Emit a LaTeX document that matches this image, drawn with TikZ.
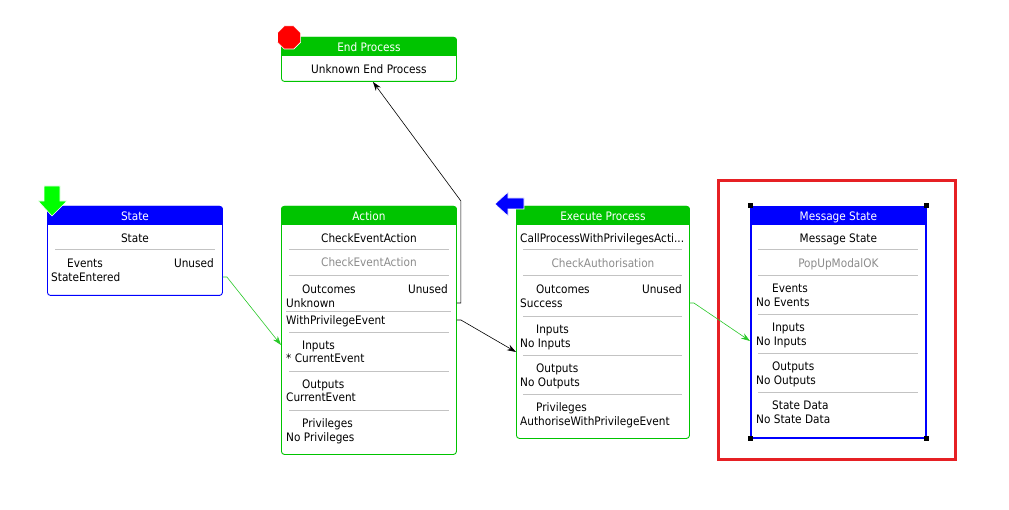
\documentclass[tikz,border=0pt]{standalone}
\usepackage{fontspec}
\setmainfont{DejaVu Sans Condensed}
\usetikzlibrary{arrows.meta,shapes.geometric}

\definecolor{hdblue}{RGB}{0,0,255}
\definecolor{hdgreen}{RGB}{0,196,0}
\definecolor{lngreen}{RGB}{40,200,40}
\definecolor{icgreen}{RGB}{0,255,0}
\definecolor{dimtext}{RGB}{140,140,140}
\definecolor{sepgray}{RGB}{195,195,195}
\definecolor{selred}{RGB}{230,32,36}

\tikzset{
  box/.style={draw=#1, fill=white, rounded corners=3pt, line width=0.9pt, anchor=north west, inner sep=0pt, minimum width=175pt},
  txt/.style={font=\fontsize{11.7}{13}\selectfont, inner sep=0pt, text height=8.5pt, text depth=0pt},
  head/.style={txt, text=white},
  dim/.style={txt, text=dimtext},
  sep/.style={draw=sepgray, line width=0.8pt},
  flow/.style={->, draw=#1, line width=0.6pt},
  >={Stealth[length=9pt,width=6pt]}
}

\begin{document}
\begin{tikzpicture}[x=1pt, y=-1pt]
\useasboundingbox (0,0) rectangle (1009,510);

% State
\node[box=hdblue, minimum height=89pt] (state) at (47,206) {};
\fill[hdblue, rounded corners=3pt] (state.north west) rectangle ([yshift=-19pt]state.north east);
\fill[hdblue] ([yshift=-10pt]state.north west) rectangle ([yshift=-19pt]state.north east);
\node[head] (state-t) at (state.north |- 0,216) {State};
\node[txt] (state-n) at (state.north |- 0,238) {State};
\draw[sep] ([xshift=8pt]state.west |- 0,249) -- ([xshift=-8pt]state.east |- 0,249);
\node[txt, anchor=west] (state-ev) at (67,263) {Events};
\node[txt, anchor=east] (state-u) at (214,263) {Unused};
\node[txt, anchor=west] (state-v1) at (51,277) {StateEntered};

% Action
\node[box=hdgreen, minimum height=248pt] (action) at (281,206) {};
\fill[hdgreen, rounded corners=3pt] (action.north west) rectangle ([yshift=-19pt]action.north east);
\fill[hdgreen] ([yshift=-10pt]action.north west) rectangle ([yshift=-19pt]action.north east);
\node[head] (action-t) at (action.north |- 0,216) {Action};
\node[txt] (action-n) at (action.north |- 0,238) {CheckEventAction};
\node[dim] (action-d) at (action.north |- 0,262) {CheckEventAction};
\foreach \y in {249,275,332,371,410}
  \draw[sep] ([xshift=8pt]action.west |- 0,\y) -- ([xshift=-8pt]action.east |- 0,\y);
\draw[sep] ([xshift=5pt]action.west |- 0,311) -- ([xshift=-6pt]action.east |- 0,311);
\node[txt, anchor=west] (action-oc) at (302,289) {Outcomes};
\node[txt, anchor=east] (action-u) at (448,289) {Unused};
\node[txt, anchor=west] (action-v1) at (286,303) {Unknown};
\node[txt, anchor=west] (action-v2) at (286,320) {WithPrivilegeEvent};
\node[txt, anchor=west] (action-in) at (302,345) {Inputs};
\node[txt, anchor=west] (action-ci) at (286,358) {* CurrentEvent};
\node[txt, anchor=west] (action-out) at (302,384) {Outputs};
\node[txt, anchor=west] (action-co) at (286,397) {CurrentEvent};
\node[txt, anchor=west] (action-pr) at (302,423) {Privileges};
\node[txt, anchor=west] (action-np) at (286,437) {No Privileges};

% End Process
\node[box=hdgreen, minimum height=44pt] (endp) at (281,37) {};
\fill[hdgreen, rounded corners=3pt] (endp.north west) rectangle ([yshift=-19pt]endp.north east);
\fill[hdgreen] ([yshift=-10pt]endp.north west) rectangle ([yshift=-19pt]endp.north east);
\node[head] (endp-t) at (endp.north |- 0,47) {End Process};
\node[txt] (endp-n) at (endp.north |- 0,69) {Unknown End Process};

% Execute Process
\node[box=hdgreen, minimum width=173pt, minimum height=232pt] (exec) at (516,206) {};
\fill[hdgreen, rounded corners=3pt] (exec.north west) rectangle ([yshift=-19pt]exec.north east);
\fill[hdgreen] ([yshift=-10pt]exec.north west) rectangle ([yshift=-19pt]exec.north east);
\node[head] (exec-t) at (exec.north |- 0,216) {Execute Process};
\node[txt, anchor=west] (exec-n) at (520,238) {CallProcessWithPrivilegesActi...};
\node[dim] (exec-d) at (exec.north |- 0,263) {CheckAuthorisation};
\foreach \y in {249,275,316,355,394}
  \draw[sep] ([xshift=7pt]exec.west |- 0,\y) -- ([xshift=-8pt]exec.east |- 0,\y);
\node[txt, anchor=west] (exec-oc) at (536,289) {Outcomes};
\node[txt, anchor=east] (exec-u) at (682,289) {Unused};
\node[txt, anchor=west] (exec-v1) at (520,303) {Success};
\node[txt, anchor=west] (exec-in) at (536,329) {Inputs};
\node[txt, anchor=west] (exec-ni) at (520,343) {No Inputs};
\node[txt, anchor=west] (exec-out) at (536,368) {Outputs};
\node[txt, anchor=west] (exec-no) at (520,382) {No Outputs};
\node[txt, anchor=west] (exec-pr) at (536,407) {Privileges};
\node[txt, anchor=west] (exec-ap) at (520,421) {AuthoriseWithPrivilegeEvent};

% Message State (selected)
\draw[selred, line width=3pt] (718,181) rectangle (955,459);
\node[box=hdblue, sharp corners, line width=1.8pt, minimum height=231pt] (msg) at (750,206) {};
\fill[hdblue] (msg.north west) rectangle ([yshift=-19pt]msg.north east);
\node[head] (msg-t) at (msg.north |- 0,216) {Message State};
\node[txt] (msg-n) at (msg.north |- 0,238) {Message State};
\node[dim] (msg-d) at (msg.north |- 0,263) {PopUpModalOK};
\foreach \y in {249,275,314,353,392}
  \draw[sep] ([xshift=8pt]msg.west |- 0,\y) -- ([xshift=-9pt]msg.east |- 0,\y);
\node[txt, anchor=west] (msg-ev) at (772,288) {Events};
\node[txt, anchor=west] (msg-ne) at (756,302) {No Events};
\node[txt, anchor=west] (msg-in) at (772,327) {Inputs};
\node[txt, anchor=west] (msg-ni) at (756,341) {No Inputs};
\node[txt, anchor=west] (msg-out) at (772,366) {Outputs};
\node[txt, anchor=west] (msg-no) at (756,380) {No Outputs};
\node[txt, anchor=west] (msg-sd) at (772,405) {State Data};
\node[txt, anchor=west] (msg-ns) at (756,419) {No State Data};
\foreach \c in {north west, north east, south west, south east}
  \fill (msg.\c) ++(-2.5,-2.5) rectangle ++(5,5);

% icons
\filldraw[fill=icgreen, draw=white, line width=0.6pt] (44,186) -- (60,186) -- (60,201) -- (67,201) -- (52,216) -- (38,201) -- (44,201) -- cycle;
\filldraw[fill=hdblue, draw=white, line width=0.6pt] (495,204) -- (508,192) -- (508,198) -- (524,198) -- (524,209) -- (508,209) -- (508,216) -- cycle;
\node[regular polygon, regular polygon sides=8, fill=red, draw=white, line width=0.6pt, minimum size=25pt, inner sep=0pt] (stop) at (289,37.5) {};

% connectors
\draw[flow=lngreen] (state.east |- state-v1) -- ++(4,0) -- (action.west |- action-in);
\draw[flow=black] (action.east |- action-v2) -- ++(4,0) -- ([yshift=-9pt]exec-ni.west -| exec.west);
\draw[flow=lngreen] (exec.east |- exec-v1) -- ++(4,0) -- (msg.west |- msg-ni);
\draw[flow=black] (action.east |- action-v1) -- ++(4,0) -- ++(0,-102) -- ([xshift=4pt]endp.south);
\end{tikzpicture}
\end{document}
